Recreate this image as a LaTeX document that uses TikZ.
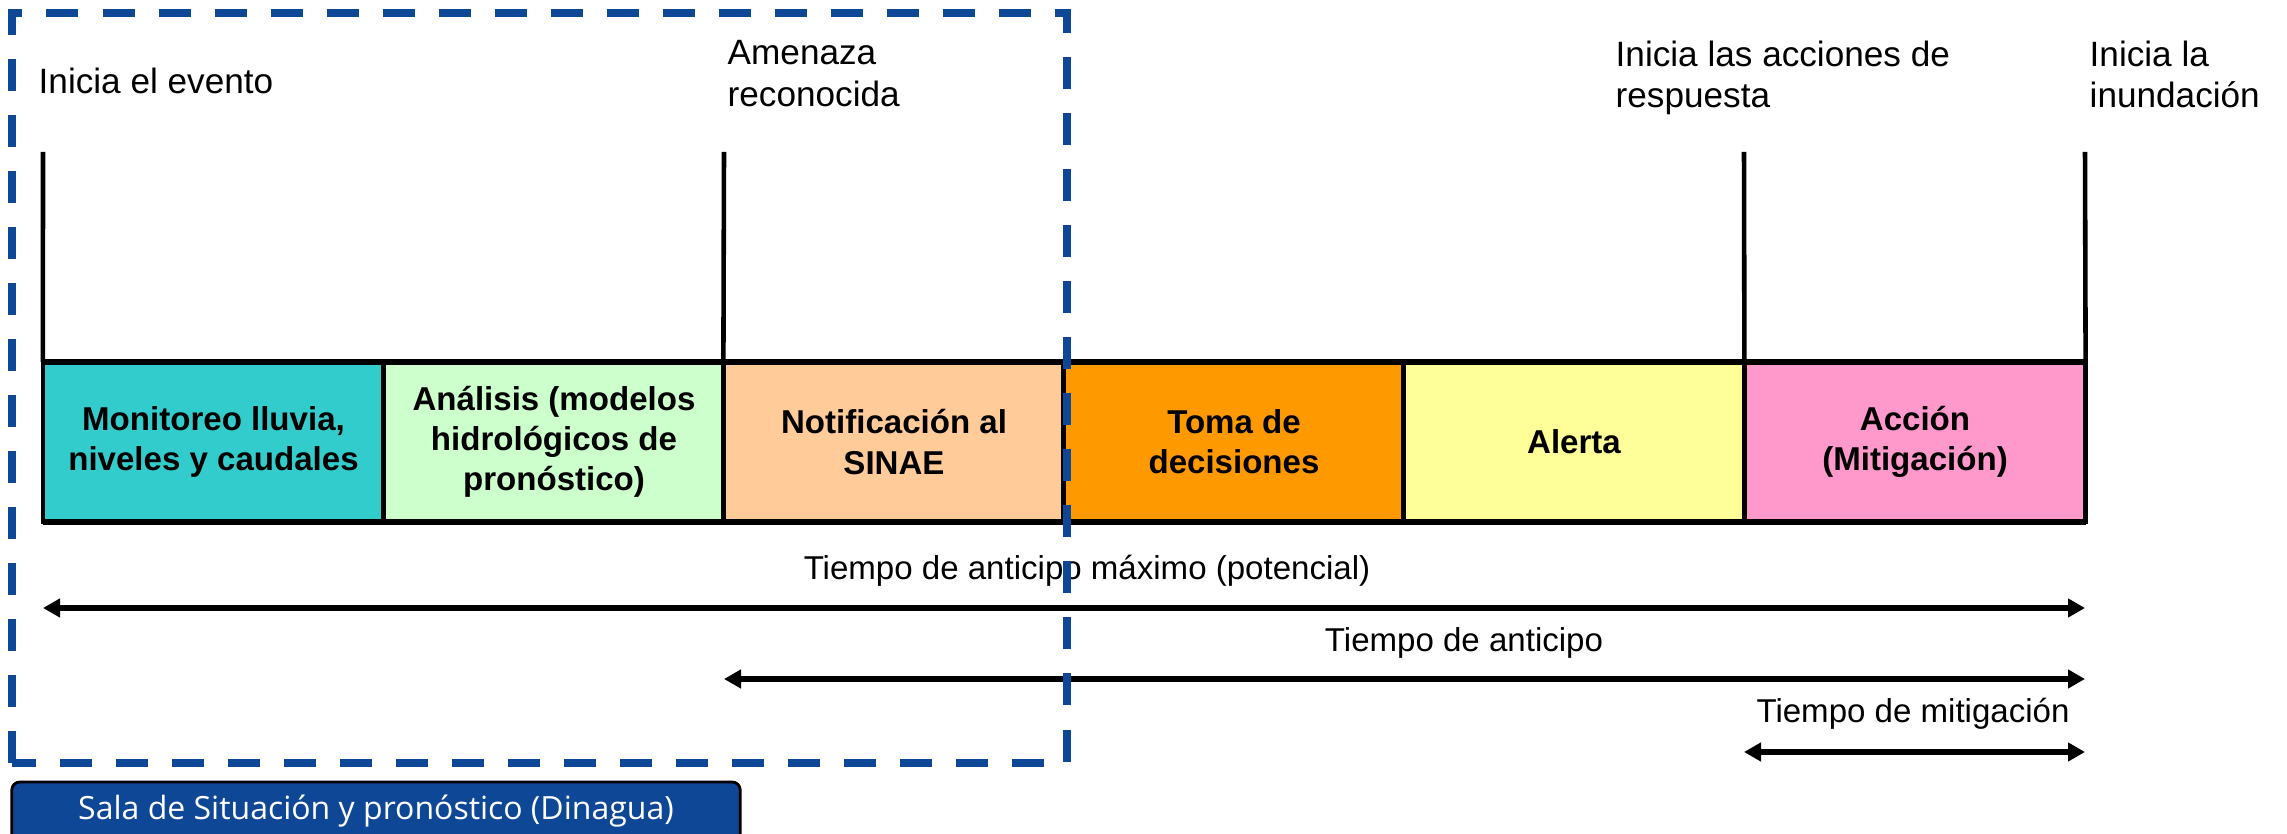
\documentclass[tikz,border=0pt]{standalone}
\usepackage{fontspec}
\setmainfont{Liberation Sans}
\newfontfamily\salafont{Open Sans}
\usepackage{xcolor}
\usetikzlibrary{arrows.meta, positioning}

\begin{document}
\begin{tikzpicture}[x=0.01cm, y=-0.01cm,
    fase/.style={draw=black, line width=1.3pt, minimum width=3.41cm, minimum height=1.6cm,
      inner sep=0pt, outer sep=0pt, align=center, font=\bfseries\fontsize{9.4pt}{11.4pt}\selectfont},
    marca/.style={line width=1.3pt},
    hito/.style={anchor=north west, inner sep=0pt, align=left, font=\fontsize{10pt}{11.7pt}\selectfont},
    flecha/.style={line width=1.5pt, {Triangle[length=0.17cm, width=0.18cm]}-{Triangle[length=0.17cm, width=0.18cm]}},
    tiempo/.style={anchor=base, inner sep=0pt, font=\fontsize{9.4pt}{11pt}\selectfont},
    salaboton/.style={draw=black, line width=0.8pt, fill=azulsala, text=white, rounded corners=0.08cm,
      minimum width=7.28cm, minimum height=0.64cm, text height=0.23cm, text depth=0.12cm,
      inner sep=0pt, font=\salafont\fontsize{9.1pt}{11pt}\selectfont}]
    % Colors
    \definecolor{cmonitoreo}{RGB}{51, 204, 204}
    \definecolor{canalisis}{RGB}{204, 255, 204}
    \definecolor{cnotificacion}{RGB}{255, 204, 153}
    \definecolor{ctoma}{RGB}{255, 153, 0}
    \definecolor{calerta}{RGB}{255, 255, 153}
    \definecolor{caccion}{RGB}{255, 153, 204}
    \definecolor{azulsala}{RGB}{15, 71, 151}

    \useasboundingbox (0,0) rectangle (2287,834);

    % Phases
    \node[fase, fill=cmonitoreo] (monitoreo) at (213.5,442) {Monitoreo lluvia,\\ niveles y caudales};
    \node[fase, fill=canalisis] (analisis) at (554,442) {Análisis (modelos\\ hidrológicos de\\ pronóstico)};
    \node[fase, fill=cnotificacion] (notificacion) at (894,442) {Notificación al\\ SINAE};
    \node[fase, fill=ctoma] (toma) at (1234,442) {Toma de\\ decisiones};
    \node[fase, fill=calerta] (alerta) at (1574,442) {Alerta};
    \node[fase, fill=caccion] (accion) at (1915,442) {Acción\\ (Mitigación)};
    \draw[line width=1.7pt] (monitoreo.north west) -- (accion.north east);
    \draw[line width=1.7pt] (monitoreo.south west) -- (accion.south east);

    % Milestones
    \node[hito] (evento) at (38,67) {Inicia el evento};
    \node[hito] (amenaza) at (727,40) {Amenaza\\ reconocida};
    \node[hito] (respuesta) at (1615,40) {Inicia las acciones de\\ respuesta};
    \node[hito] (inundacion) at (2089,40) {Inicia la\\ inundación};
    \coordinate (t1) at (43,152);
    \coordinate (t2) at (724,152);
    \coordinate (t3) at (1744,152);
    \coordinate (t4) at (2085,152);
    \draw[marca] (t1) -- (monitoreo.north west);
    \draw[marca] (t2) -- (notificacion.north west);
    \draw[marca] (t3) -- (accion.north west);
    \draw[marca] (t4) -- (accion.north east);

    % Times
    \coordinate (a1) at (43,608);
    \coordinate (b1) at (2085,608);
    \coordinate (a2) at (724,679);
    \coordinate (b2) at (2085,679);
    \coordinate (a3) at (1744,752);
    \coordinate (b3) at (2085,752);
    \node[tiempo] (tmax) at (1087,580) {Tiempo de anticipo máximo (potencial)};
    \node[tiempo] (tanticipo) at (1464,652) {Tiempo de anticipo};
    \node[tiempo] (tmitig) at (1913,723) {Tiempo de mitigación};
    \draw[flecha] (a1) -- (b1);
    \draw[flecha] (a2) -- (b2);
    \draw[flecha] (a3) -- (b3);

    % Situation room
    \draw[azulsala, line width=2pt, dash pattern=on 0.32cm off 0.24cm]
      (12,763) -- (12,13) -- (1067,13) -- (1067,763) -- cycle;
    \node[salaboton] (sala) at (376,814) {Sala de Situación y pronóstico (Dinagua)};

  \end{tikzpicture}
\end{document}
